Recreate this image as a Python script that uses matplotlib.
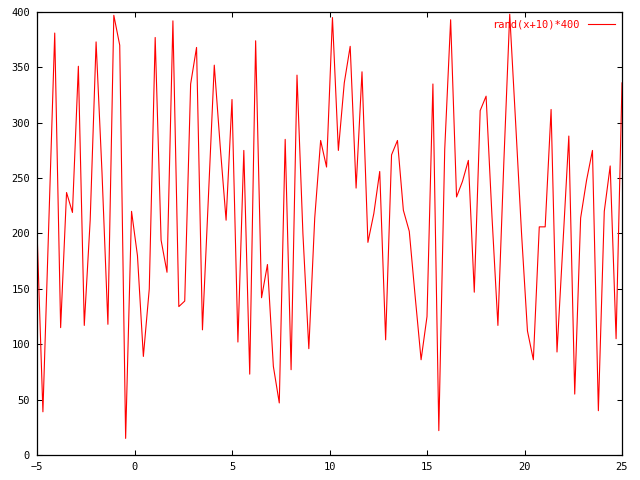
import numpy as np
import matplotlib
matplotlib.use('Agg')
from matplotlib import pyplot as plt

# Valores (100 amostras de -5 a 25).
x_min, x_max = -5, 25
values = [203, 39, 210, 381, 115, 237, 219, 351, 117, 212,
          373, 255, 118, 397, 370, 15, 220, 180, 89, 150,
          377, 194, 165, 392, 134, 139, 335, 368, 113, 232,
          352, 279, 212, 321, 102, 275, 73, 374, 142, 172,
          80, 47, 285, 77, 343, 200, 96, 214, 284, 260,
          395, 275, 336, 369, 241, 346, 192, 218, 256, 104,
          271, 284, 221, 202, 143, 86, 125, 335, 22, 276,
          393, 233, 247, 266, 147, 311, 324, 215, 117, 264,
          398, 300, 200, 112, 86, 206, 206, 312, 93, 190,
          288, 55, 214, 248, 275, 40, 220, 261, 105, 336]
xs = np.linspace(x_min, x_max, len(values))
x_ticks = [-5, 0, 5, 10, 15, 20, 25]
y_ticks = [0, 50, 100, 150, 200, 250, 300, 350, 400]
label = 'rand(x+10)*400'

plt.rcParams['font.family'] = 'DejaVu Sans Mono'

fig = plt.figure(dpi=100, figsize=(6.4, 4.8))
ax = fig.add_axes([37 / 640, 25 / 480, 585 / 640, 443 / 480])
ax.plot(xs, values, c='red', lw=0.8, label=label)

# Formata o gráfico.
ax.set_xlim(x_min, x_max)
ax.set_ylim(0, 400)
ax.set_xticks(x_ticks)
ax.set_yticks(y_ticks)
ax.tick_params(axis='both', direction='in', top=True, right=True,
               length=3.5, width=0.75, labelsize=7.5, pad=5)
for s in ax.spines.values():
    s.set_linewidth(0.9)

ax.legend(loc='upper right', frameon=False, markerfirst=False,
          handlelength=2.6, labelcolor='red', borderaxespad=0.3,
          prop={'family': 'DejaVu Sans Mono', 'size': 7.5})

plt.savefig('out.png')
